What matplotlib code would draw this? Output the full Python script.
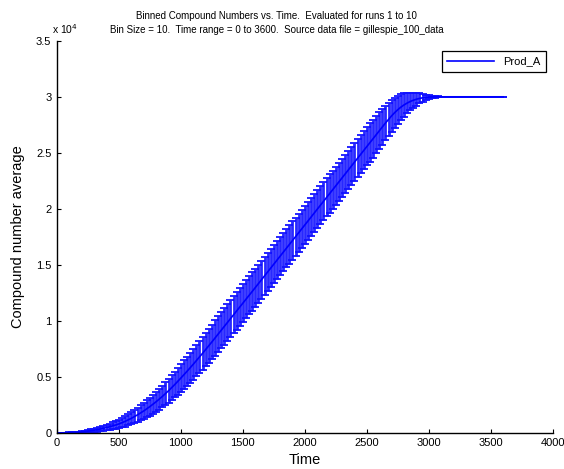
import numpy as np
import matplotlib
matplotlib.use('Agg')
import matplotlib.pyplot as plt
from matplotlib.ticker import FuncFormatter

plt.rcParams['font.family'] = ['Liberation Sans', 'DejaVu Sans']

# binned time points (every 25 time units, 0 to 3600)
time = np.arange(0, 3625, 25)

prod_a_mean = [
    0, 1, 3, 9, 17, 29, 45, 65, 90, 119, 153, 193, 237, 288, 344, 405, 473, 545, 624, 708, 800,
    910, 1030, 1160, 1300, 1450, 1610, 1780, 1960, 2150, 2350, 2560, 2780, 3010, 3250, 3500, 3760, 4030, 4310, 4600, 4900,
    5200, 5505, 5815, 6130, 6450, 6775, 7105, 7440, 7780, 8120, 8465, 8810, 9155, 9500, 9845, 10190, 10535, 10880, 11225, 11570,
    11920, 12270, 12620, 12970, 13320, 13670, 14020, 14370, 14720, 15070, 15420, 15770, 16120, 16470, 16820, 17170, 17520, 17870, 18220, 18570,
    18920, 19270, 19620, 19970, 20320, 20670, 21020, 21370, 21720, 22070, 22420, 22770, 23120, 23470, 23820, 24170, 24520, 24870, 25220, 25570,
    25920, 26270, 26620, 26970, 27315, 27655, 27985, 28300, 28590, 28850, 29080, 29275, 29440, 29580, 29695, 29785, 29855, 29910, 29950, 29975,
    29990, 29997, 30000, 30000, 30000, 30000, 30000, 30000, 30000, 30000, 30000, 30000,
    30000, 30000, 30000, 30000, 30000, 30000, 30000, 30000, 30000, 30000, 30000, 30000,
]

prod_a_std = [
    0, 3, 6, 12, 20, 30, 41, 55, 70, 88, 106, 128, 150, 175, 200, 228, 256, 288, 320, 352, 390,
    425, 462, 500, 540, 580, 625, 670, 712, 756, 800, 845, 888, 932, 975, 1020, 1062, 1105, 1150, 1195, 1238,
    1275, 1312, 1350, 1382, 1412, 1445, 1475, 1500, 1525, 1550, 1570, 1590, 1605, 1622, 1638, 1650, 1662, 1672, 1682, 1690,
    1700, 1700, 1700, 1700, 1700, 1700, 1700, 1700, 1700, 1700, 1700, 1700, 1700, 1700, 1700, 1700, 1700, 1700, 1700, 1700,
    1700, 1700, 1700, 1700, 1700, 1700, 1700, 1700, 1700, 1700, 1700, 1700, 1700, 1700, 1700, 1700, 1700, 1700, 1700, 1700,
    1700, 1690, 1670, 1640, 1600, 1550, 1490, 1420, 1340, 1250, 1150, 1040, 920, 800, 680, 565, 450, 345, 250, 170,
    105, 60, 35, 20, 15, 12, 10, 10, 10, 10, 10, 10,
    10, 10, 10, 10, 10, 10, 10, 10, 10, 10, 10, 10,
]

x_ticks = [0, 500, 1000, 1500, 2000, 2500, 3000, 3500, 4000]
y_ticks = [0, 5000, 10000, 15000, 20000, 25000, 30000, 35000]

fig = plt.figure(figsize=(5.64, 4.69), dpi=100)
ax = fig.add_axes([0.101, 0.077, 0.879, 0.836])

ax.errorbar(time, prod_a_mean, yerr=prod_a_std, fmt='none', ecolor='#1010ff',
            elinewidth=2.0, capsize=3.0, capthick=1.4, alpha=0.9)
ax.plot(time, prod_a_mean, color='#0000ff', lw=1.2, label='Prod_A')

ax.set_xlim(0, 4000)
ax.set_ylim(0, 35000)
ax.set_xticks(x_ticks)
ax.set_yticks(y_ticks)
ax.yaxis.set_major_formatter(FuncFormatter(lambda v, p: '%g' % (v / 1e4)))
ax.tick_params(direction='in', length=3, width=0.8, labelsize=8, pad=4)

for side in ['top', 'right']:
    ax.spines[side].set_visible(False)
for side in ['left', 'bottom']:
    ax.spines[side].set_linewidth(1.0)

ax.text(-0.01, 1.012, r'x 10$^{4}$', transform=ax.transAxes, fontsize=7.5,
        ha='left', va='bottom')

fig.text(0.49, 0.965, 'Binned Compound Numbers vs. Time.  Evaluated for runs 1 to 10',
         fontsize=7, ha='center', va='center')
fig.text(0.49, 0.936, 'Bin Size = 10.  Time range = 0 to 3600.  Source data file = gillespie_100_data',
         fontsize=7, ha='center', va='center')
ax.set_xlabel('Time', fontsize=10.5, labelpad=3)
ax.set_ylabel('Compound number average', fontsize=10.5, labelpad=8)

leg = ax.legend(loc='upper right', bbox_to_anchor=(0.986, 0.974), fontsize=8,
                fancybox=False, framealpha=1, edgecolor='black',
                handlelength=4.2, borderpad=0.5, borderaxespad=0)
leg.get_frame().set_linewidth(0.9)

fig.savefig('out.png', dpi=100)
